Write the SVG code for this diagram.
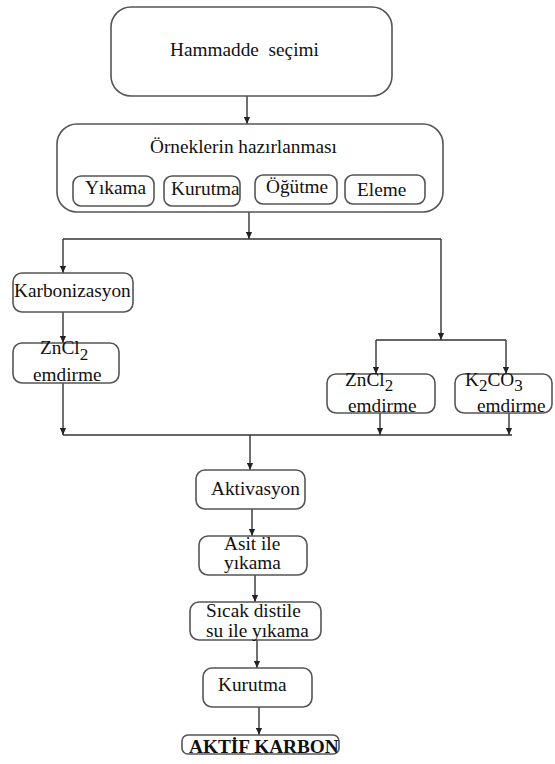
<svg xmlns="http://www.w3.org/2000/svg" width="555" height="764" viewBox="0 0 555 764">
<style>
.box{fill:#fff;stroke:#555;stroke-width:1.6}
.t{font-family:'Liberation Serif','Times New Roman','DejaVu Serif',serif;font-size:19.3px;fill:#111}
.b{font-weight:bold}
.s{font-size:17px}
.ln{fill:none;stroke:#333;stroke-width:1.4}
</style>
<defs>
<marker id="ah" viewBox="0 0 8 8" refX="8" refY="4" markerWidth="7" markerHeight="7" markerUnits="userSpaceOnUse" orient="auto">
<path d="M0,0.5 L8,4 L0,7.5 Z" fill="#222"/>
</marker>
</defs>
<rect width="555" height="764" fill="#fff"/>
<g id="connectors">
<line class="ln" x1="247" y1="96" x2="247" y2="124" marker-end="url(#ah)"/>
<line class="ln" x1="249" y1="212" x2="249" y2="239" marker-end="url(#ah)"/>
<polyline class="ln" points="63,239 441,239"/>
<line class="ln" x1="63" y1="239" x2="63" y2="273" marker-end="url(#ah)"/>
<line class="ln" x1="63" y1="312" x2="63" y2="343" marker-end="url(#ah)"/>
<line class="ln" x1="63" y1="383" x2="63" y2="435" marker-end="url(#ah)"/>
<line class="ln" x1="441" y1="239" x2="441" y2="340" marker-end="url(#ah)"/>
<polyline class="ln" points="376,340 506,340"/>
<line class="ln" x1="376" y1="340" x2="376" y2="374" marker-end="url(#ah)"/>
<line class="ln" x1="506" y1="340" x2="506" y2="374" marker-end="url(#ah)"/>
<line class="ln" x1="380" y1="413" x2="380" y2="435" marker-end="url(#ah)"/>
<line class="ln" x1="509" y1="413" x2="509" y2="435" marker-end="url(#ah)"/>
<polyline class="ln" points="63,435 512,435"/>
<line class="ln" x1="250" y1="435" x2="250" y2="470" marker-end="url(#ah)"/>
<line class="ln" x1="252" y1="509" x2="252" y2="536" marker-end="url(#ah)"/>
<line class="ln" x1="255" y1="575" x2="255" y2="602" marker-end="url(#ah)"/>
<line class="ln" x1="257" y1="640" x2="257" y2="668" marker-end="url(#ah)"/>
<line class="ln" x1="259" y1="707" x2="259" y2="735" marker-end="url(#ah)"/>
</g>
<g id="hammadde">
<rect class="box" x="111" y="7" width="281" height="89" rx="20"/>
<text class="t" x="170" y="56" xml:space="preserve">Hammadde  seçimi</text>
</g>
<g id="ornekler">
<rect class="box" x="57" y="124" width="386" height="88" rx="20"/>
<text class="t" x="150" y="153">Örneklerin hazırlanması</text>
</g>
<g id="yikama">
<rect class="box" x="73" y="176" width="81" height="30" rx="8"/>
<text class="t" x="85" y="194">Yıkama</text>
</g>
<g id="kurutma1">
<rect class="box" x="164" y="176" width="76" height="30" rx="8"/>
<text class="t" x="171" y="195">Kurutma</text>
</g>
<g id="ogutme">
<rect class="box" x="255" y="175" width="82" height="29" rx="8"/>
<text class="t" x="266" y="193">Öğütme</text>
</g>
<g id="eleme">
<rect class="box" x="345" y="175" width="80" height="29" rx="8"/>
<text class="t" x="357" y="196">Eleme</text>
</g>
<g id="karbonizasyon">
<rect class="box" x="13" y="273" width="120" height="39" rx="9"/>
<text class="t" x="14" y="297">Karbonizasyon</text>
</g>
<g id="zncl2-left">
<rect class="box" x="13" y="343" width="106" height="40" rx="9"/>
<text class="t" x="40" y="354">ZnCl<tspan class="s" dy="6">2</tspan></text>
<text class="t" x="33" y="381">emdirme</text>
</g>
<g id="zncl2-right">
<rect class="box" x="327" y="374" width="108" height="39" rx="9"/>
<text class="t" x="345" y="386">ZnCl<tspan class="s" dy="5">2</tspan></text>
<text class="t" x="348" y="412">emdirme</text>
</g>
<g id="k2co3">
<rect class="box" x="455" y="374" width="97" height="39" rx="9"/>
<text class="t" x="465" y="386">K<tspan class="s" dy="5">2</tspan><tspan dy="-5">CO</tspan><tspan class="s" dy="5">3</tspan></text>
<text class="t" x="477" y="412">emdirme</text>
</g>
<g id="aktivasyon">
<rect class="box" x="196" y="470" width="109" height="39" rx="9"/>
<text class="t" x="211" y="495">Aktivasyon</text>
</g>
<g id="asit">
<rect class="box" x="199" y="536" width="108" height="39" rx="9"/>
<text class="t" x="224" y="550">Asit ile</text>
<text class="t" x="224" y="569">yıkama</text>
</g>
<g id="sicak">
<rect class="box" x="190" y="602" width="131" height="38" rx="9"/>
<text class="t" x="206" y="617">Sıcak distile</text>
<text class="t" x="206" y="637">su ile yıkama</text>
</g>
<g id="kurutma2">
<rect class="box" x="203" y="668" width="109" height="39" rx="9"/>
<text class="t" x="218" y="691">Kurutma</text>
</g>
<g id="aktif-karbon">
<rect class="box" x="182" y="735" width="157" height="19" rx="6"/>
<text class="t b" x="189" y="753">AKTİF KARBON</text>
</g>
</svg>
